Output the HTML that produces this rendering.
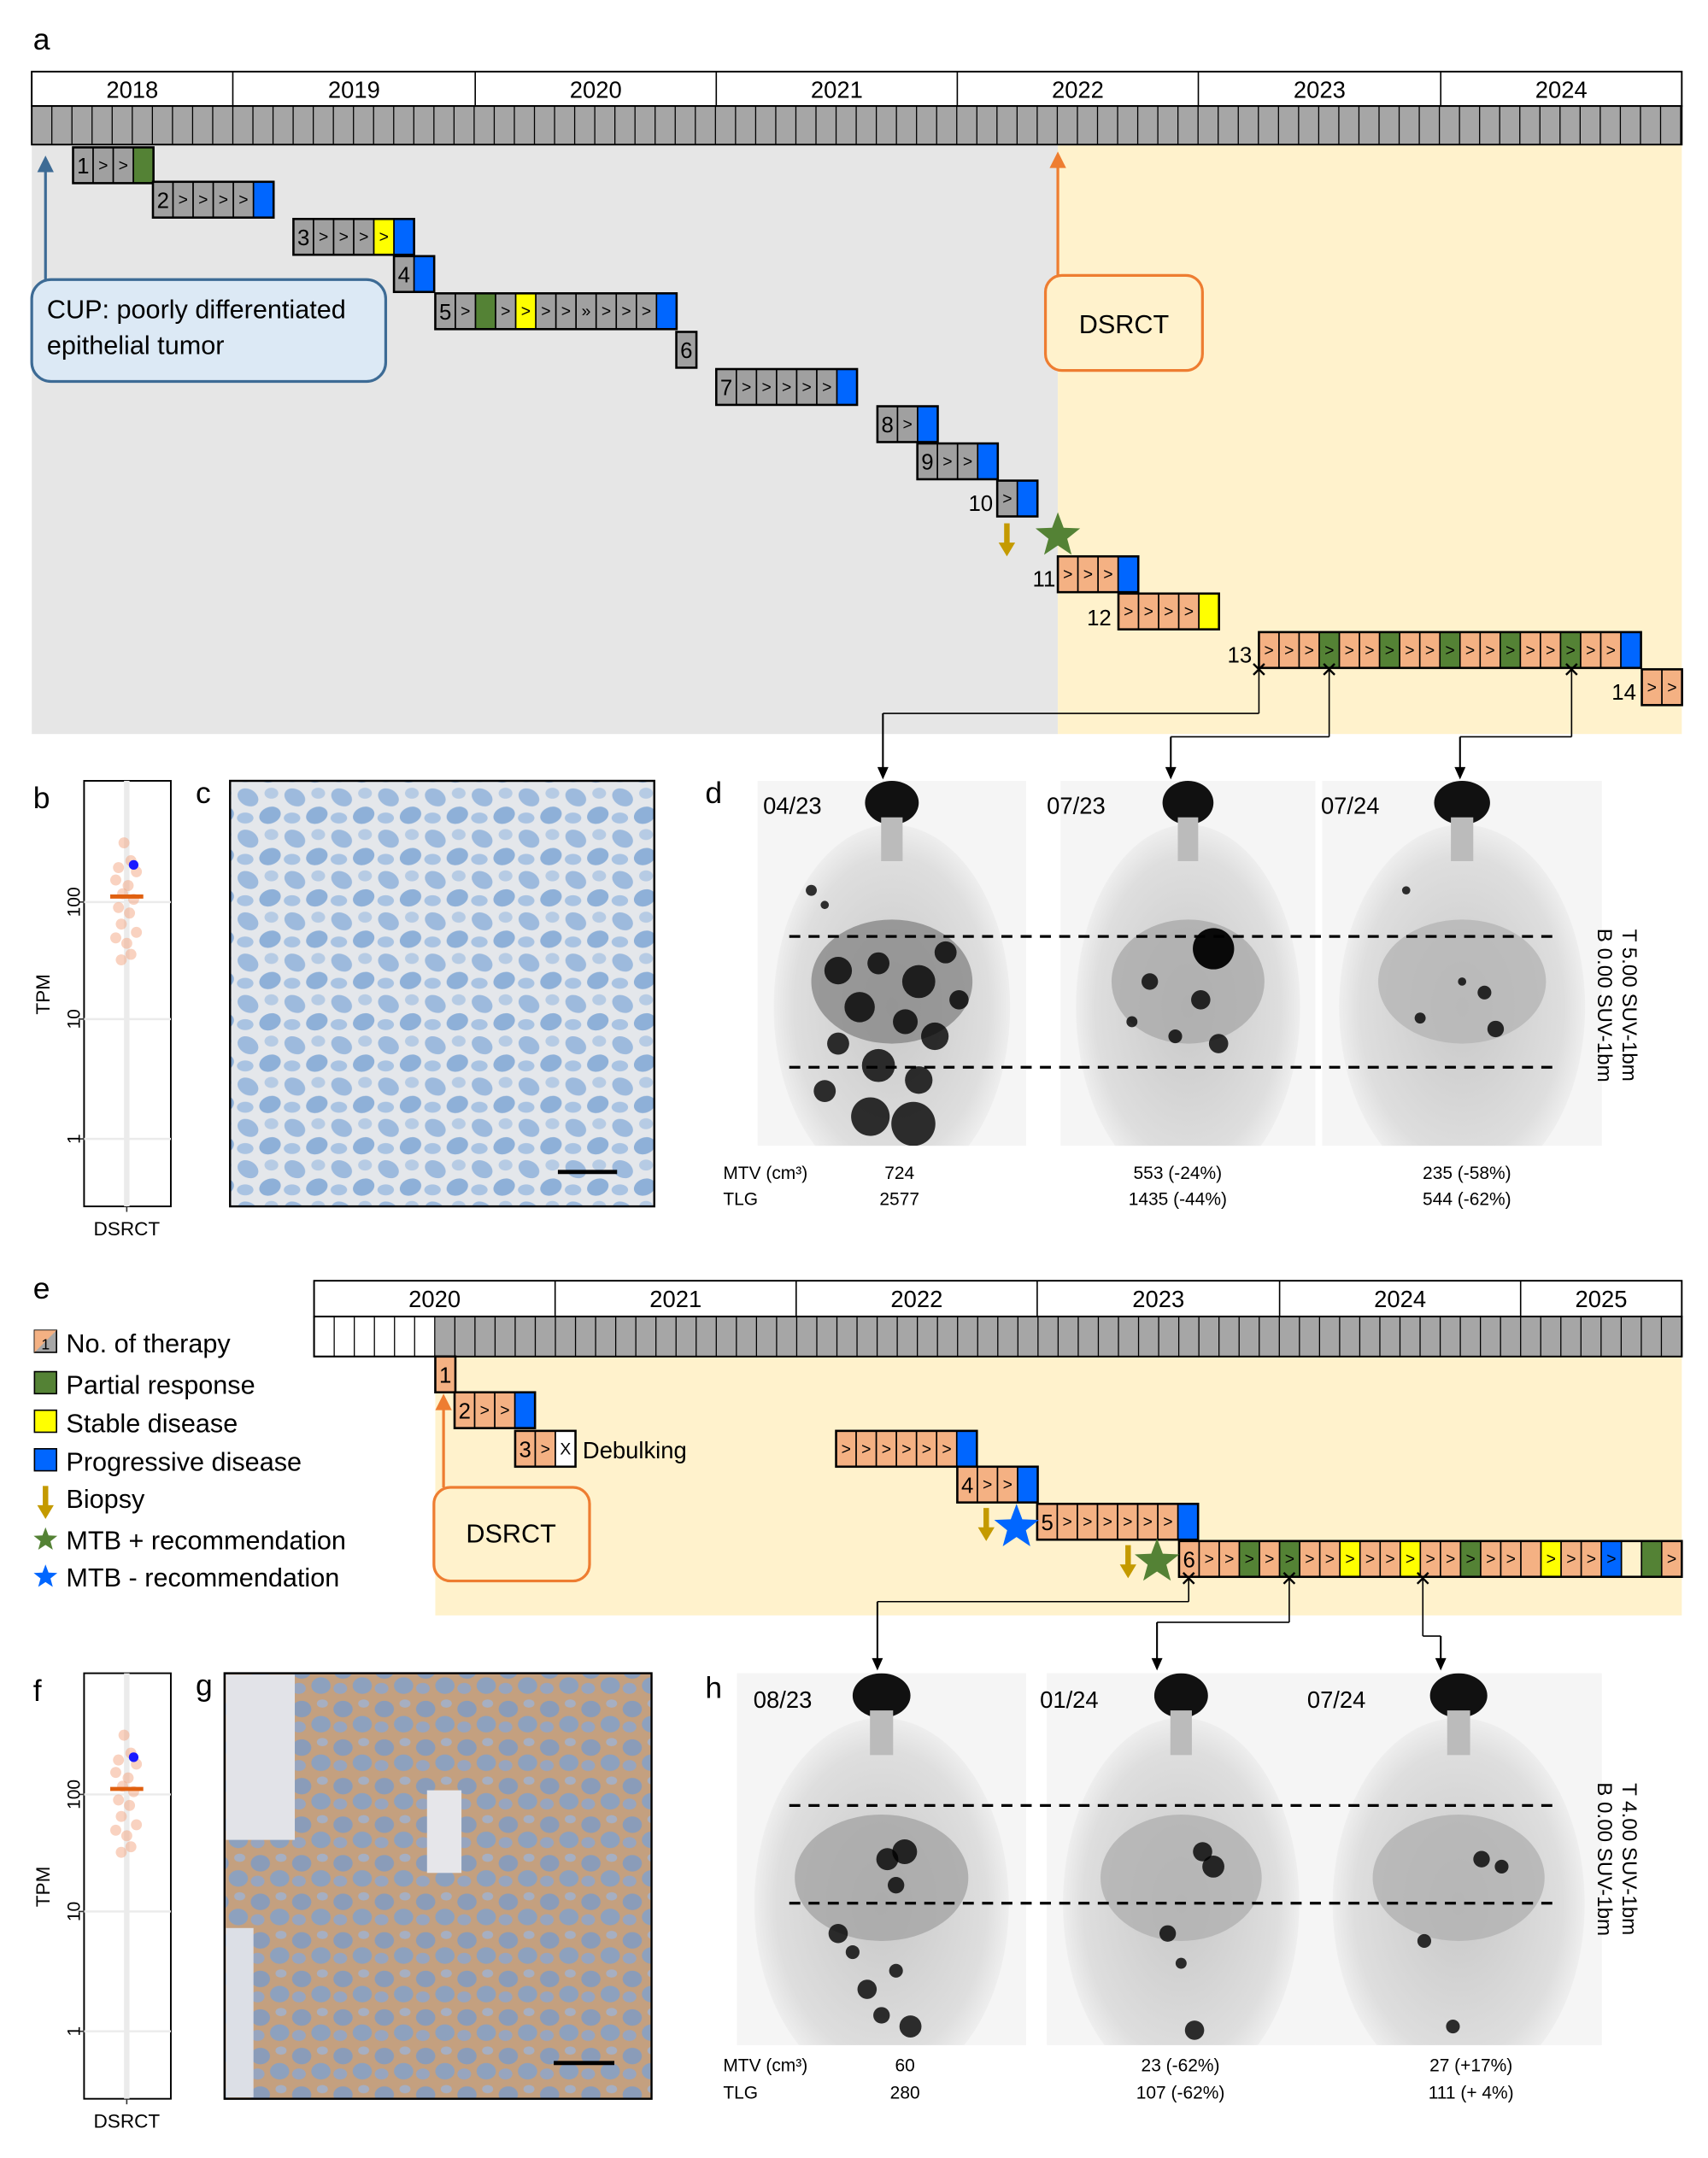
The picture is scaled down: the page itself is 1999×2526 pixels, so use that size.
<!DOCTYPE html><html><head><meta charset="utf-8"><style>html,body{margin:0;padding:0;background:#fff}svg{display:block}text{font-family:"Liberation Sans",sans-serif}</style></head><body>
<svg id="s" xmlns="http://www.w3.org/2000/svg" width="1999" height="2526" viewBox="0 0 1240 1567">
<defs>
<radialGradient id="body" cx="50%" cy="50%" r="55%"><stop offset="0" stop-color="#c8c8c8"/><stop offset="0.75" stop-color="#dedede"/><stop offset="1" stop-color="#f7f7f7"/></radialGradient>
<pattern id="bluecells" width="34" height="30" patternUnits="userSpaceOnUse"><rect width="34" height="30" fill="#e4e7eb"/><ellipse cx="10" cy="9" rx="8" ry="6" fill="#9dbadd" transform="rotate(30 10 9)"/><ellipse cx="26" cy="22" rx="8" ry="6" fill="#8eb0d8" transform="rotate(-20 26 22)"/><ellipse cx="27" cy="6" rx="5" ry="4" fill="#b6cbe4"/><ellipse cx="8" cy="24" rx="6" ry="4" fill="#a9c3e2"/></pattern>
<pattern id="browncells" width="30" height="28" patternUnits="userSpaceOnUse"><rect width="30" height="28" fill="#c4a07f"/><ellipse cx="9" cy="9" rx="7" ry="6" fill="#8a9cb9"/><ellipse cx="23" cy="20" rx="7" ry="6" fill="#8da1be"/><ellipse cx="24" cy="5" rx="4" ry="3" fill="#a6afc2"/><ellipse cx="7" cy="22" rx="5" ry="4" fill="#97a5bf"/></pattern>
</defs>
<g id="g"></g>
</svg>
<script>
const g=document.getElementById('g');let h='';let cid=0;
const S='#f4b183',G='#548235',B='#0066ff',Y='#ffff00',GR='#a0a0a0';
function R(x,y,w,hh,f,st,sw,extra){h+=`<rect x="${x}" y="${y}" width="${w}" height="${hh}" fill="${f}" stroke="${st||'none'}" stroke-width="${sw||1}" ${extra||''}/>`}
function T(x,y,t,fs,anchor,extra){h+=`<text x="${x}" y="${y}" font-size="${fs}" text-anchor="${anchor||'start'}" ${extra||''}>${t}</text>`}
function L(x1,y1,x2,y2,st,sw,extra){h+=`<line x1="${x1}" y1="${y1}" x2="${x2}" y2="${y2}" stroke="${st||'#000'}" stroke-width="${sw||1}" ${extra||''}/>`}
const W=14.6;
function row(x,y,cells,hh){hh=hh||26;cells.forEach((c,i)=>{let cx=x+i*W;R(cx,y,W,hh,c[0],'#000',1);if(c[1]){let num=c[1].match(/\d/);T(cx+W/2,y+hh/2+(num?6:4),c[1],num?16:12,'middle')}});R(x,y,W*cells.length,hh,'none','#000',1.6);}
function arrowDown(x,y1,y2,col){L(x,y1,x,y2-8,col,1.3);h+=`<polygon points="${x-4},${y2-9} ${x+4},${y2-9} ${x},${y2}" fill="${col}"/>`}
function arrowUp(x,y1,y2,col,w){L(x,y1,x,y2+10,col,w||2);h+=`<polygon points="${x-6},${y2+12} ${x+6},${y2+12} ${x},${y2}" fill="${col}"/>`}
function star(cx,cy,r,col){let p=[];for(let i=0;i<10;i++){let a=-Math.PI/2+i*Math.PI/5,rr=i%2?r*0.42:r;p.push((cx+rr*Math.cos(a)).toFixed(1)+','+(cy+rr*Math.sin(a)).toFixed(1))}h+=`<polygon points="${p.join(' ')}" fill="${col}"/>`}
function biopsy(x,y){R(x-2,y,4,16,'#c49a00');h+=`<polygon points="${x-6},${y+14} ${x+6},${y+14} ${x},${y+24}" fill="#c49a00"/>`}
function cross(x,y){L(x-4,y-4,x+4,y+4,'#000',1.5);L(x-4,y+4,x+4,y-4,'#000',1.5)}

// ===== Panel a =====
T(24,36,'a',22);
R(23,105,745,428,'#e6e6e6');R(768,105,453,428,'#fff2cc');
R(23,52,1198,25,'#fff','#000',1.2);
[[23,169,'2018'],[169,345,'2019'],[345,520,'2020'],[520,695,'2021'],[695,870,'2022'],[870,1046,'2023'],[1046,1221,'2024']].forEach(y=>{L(y[0],52,y[0],77,'#000',1);T((y[0]+y[1])/2,71,y[2],17,'middle')});
R(23,77,1198,28,'#a6a6a6','#000',1.2);
for(let x=23;x<1221;x+=W)L(x,77,x,105,'#000',0.8);
const P=[GR,'>'];
row(53,107,[[GR,'1'],P,P,[G]]);
row(111,132,[[GR,'2'],P,P,P,P,[B]]);
row(213,159,[[GR,'3'],P,P,P,[Y,'>'],[B]]);
row(286,186,[[GR,'4'],[B]]);
row(316,213,[[GR,'5'],P,[G],P,[Y,'>'],P,P,[GR,'»'],P,P,P,[B]]);
row(491,241,[[GR,'6']]);
row(520,268,[[GR,'7'],P,P,P,P,P,[B]]);
row(637,295,[[GR,'8'],P,[B]]);
row(666,322,[[GR,'9'],P,P,[B]]);
T(712,371,'10',16,'middle');row(724,349,[P,[B]]);
biopsy(731,380);star(768,389,17,'#548235');
const Q=[S,'>'];
T(758,426,'11',16,'middle');row(768,404,[Q,Q,Q,[B]]);
T(798,454,'12',16,'middle');row(812,431,[Q,Q,Q,Q,[Y]]);
T(900,481,'13',16,'middle');row(914,459,[Q,Q,Q,[G,'>'],Q,Q,[G,'>'],Q,Q,[G,'>'],Q,Q,[G,'>'],Q,Q,[G,'>'],Q,Q,[B]]);
T(1179,508,'14',16,'middle');row(1192,486,[Q,Q]);
cross(914,486);cross(965,486);cross(1141,486);
L(914,486,914,518);L(914,518,641,518);arrowDown(641,518,566,'#000');
L(965,486,965,535);L(965,535,850,535);arrowDown(850,535,566,'#000');
L(1141,486,1141,535);L(1141,535,1060,535);arrowDown(1060,535,566,'#000');
arrowUp(33,205,113,'#3d6b95');
R(23,203,257,74,'#dce9f5','#3d6b95',2,'rx="14"');T(34,231,'CUP: poorly differentiated',19);T(34,257,'epithelial tumor',19);
arrowUp(768,200,110,'#ee7d31');
R(759,200,114,69,'#fff2cc','#ee7d31',2,'rx="12"');T(816,242,'DSRCT',19,'middle');

// TPM panels
function tpm(y0){T(24,y0+20,y0<1000?'b':'f',22);R(61,y0,63,309,'#fff','#000',1.2);
L(92,y0,92,y0+309,'#ebebeb',4);
[[88,'100'],[173,'10'],[260,'1']].forEach(t=>{L(61,y0+t[0],124,y0+t[0],'#ebebeb',1.5);L(57,y0+t[0],61,y0+t[0],'#333',1);T(53,y0+t[0],t[1],13,'middle',`transform="rotate(-90 53 ${y0+t[0]})" dy="5"`)});
T(36,y0+155,'TPM',14,'middle',`transform="rotate(-90 36 ${y0+155})"`);
L(92,y0+309,92,y0+313,'#333');T(92,y0+330,'DSRCT',14,'middle');
const pts=[[90,45],[95,58],[86,63],[99,66],[84,72],[93,76],[89,82],[97,86],[86,92],[94,96],[88,104],[99,110],[84,114],[92,118],[95,126],[88,130]];
pts.forEach(p=>h+=`<circle cx="${p[0]}" cy="${y0+p[1]}" r="4" fill="#f4a582" opacity="0.5"/>`);
h+=`<circle cx="97" cy="${y0+61}" r="3.5" fill="#1a1aff"/>`;L(80,y0+84,104,y0+84,'#e06010',3);}
tpm(567);tpm(1215);

// IHC
T(142,583,'c',22);R(167,567,308,309,'url(#bluecells)','#000',1.5);L(405,851,448,851,'#000',3);
T(142,1231,'g',22);R(163,1215,310,309,'url(#browncells)','#000',1.5);
R(164,1216,50,120,'#e2e3e8');R(164,1400,20,123,'#dcdfe6');R(310,1300,25,60,'#e6e6ea');L(402,1498,446,1498,'#000',3);

// PET
function pet(x,w,y0,hh,blobs,dark,organ){cid++;
h+=`<clipPath id="c${cid}"><rect x="${x}" y="${y0}" width="${w}" height="${hh}"/></clipPath>`;
R(x,y0,w,hh,'#f5f5f5');h+=`<g clip-path="url(#c${cid})">`;
let cx=x+w/2;
h+=`<ellipse cx="${cx}" cy="${y0+hh*0.62}" rx="${w*0.44}" ry="${hh*0.5}" fill="url(#body)"/>`;
h+=`<ellipse cx="${cx}" cy="${y0+hh*0.06}" rx="${w*0.1}" ry="${hh*0.06}" fill="#111"/>`;
h+=`<rect x="${cx-w*0.04}" y="${y0+hh*0.1}" width="${w*0.08}" height="${hh*0.12}" fill="#bbb"/>`;
h+=`<ellipse cx="${cx}" cy="${y0+hh*0.55}" rx="${w*0.3}" ry="${hh*0.17}" fill="${dark}" opacity="0.8"/>`;
blobs.forEach(b=>h+=`<circle cx="${x+b[0]*w}" cy="${y0+b[1]*hh}" r="${b[2]}" fill="#000" opacity="${b[3]||0.8}"/>`);
h+='</g>';}
T(512,583,'d',22);
const bl1=[[.3,.52,10],[.45,.5,8],[.6,.55,12],[.7,.47,8],[.38,.62,11],[.55,.66,9],[.66,.7,10],[.3,.72,8],[.45,.78,12],[.6,.82,10],[.42,.92,14],[.58,.94,16],[.25,.85,8],[.75,.6,7],[.2,.3,4],[.25,.34,3]];
pet(550,195,567,265,bl1,'#888');
pet(770,185,567,265,[[.6,.46,15,.95],[.35,.55,6],[.55,.6,7],[.45,.7,5],[.62,.72,7],[.28,.66,4]],'#aaa');
pet(960,203,567,265,[[.3,.3,3],[.58,.58,5],[.62,.68,6],[.35,.65,4],[.5,.55,3]],'#b5b5b5');
T(554,591,'04/23',17);T(760,591,'07/23',17);T(959,591,'07/24',17);
L(573,680,1130,680,'#000',2,'stroke-dasharray="8,6"');L(573,775,1130,775,'#000',2,'stroke-dasharray="8,6"');
T(1178,730,'T 5.00 SUV-1bm',15,'middle','transform="rotate(90 1178 730)"');T(1160,730,'B 0.00 SUV-1bm',15,'middle','transform="rotate(90 1160 730)"');
T(525,856,'MTV (cm³)',13);T(525,875,'TLG',13);T(653,856,'724',13,'middle');T(653,875,'2577',13,'middle');
T(855,856,'553 (-24%)',13,'middle');T(855,875,'1435 (-44%)',13,'middle');T(1065,856,'235 (-58%)',13,'middle');T(1065,875,'544 (-62%)',13,'middle');

// ===== Panel e =====
T(24,943,'e',22);
R(316,985,905,188,'#fff2cc');
R(228,930,993,26,'#fff','#000',1.2);
[[228,403,'2020'],[403,578,'2021'],[578,753,'2022'],[753,929,'2023'],[929,1104,'2024'],[1104,1221,'2025']].forEach(y=>{L(y[0],930,y[0],956,'#000',1);T((y[0]+y[1])/2,949,y[2],17,'middle')});
R(228,956,993,29,'#fff','#000',1.2);R(316,956,905,29,'#a6a6a6');
for(let x=228;x<1221;x+=W)L(x,956,x,985,'#000',0.8);R(228,956,993,29,'none','#000',1.2);
R(25,966,16,16,'#a6a6a6','#000');h+=`<polygon points="25,966 41,966 25,982" fill="#f4b183"/>`;T(30,980,'1',11);
T(48,982,'No. of therapy',19);
R(25,996,16,16,G,'#000');T(48,1012,'Partial response',19);
R(25,1024,16,16,Y,'#000');T(48,1040,'Stable disease',19);
R(25,1052,16,16,B,'#000');T(48,1068,'Progressive disease',19);
biopsy(33,1079);T(48,1095,'Biopsy',19);
star(33,1118,9,'#548235');T(48,1125,'MTB + recommendation',19);
star(33,1145,9,'#0066ff');T(48,1152,'MTB - recommendation',19);
row(316,985,[[S,'1']]);
row(330,1011,[[S,'2'],Q,Q,[B]]);
row(374,1039,[[S,'3'],Q,['#fff','X']]);T(423,1059,'Debulking',17);
row(607,1039,[Q,Q,Q,Q,Q,Q,[B]]);
row(695,1065,[[S,'4'],Q,Q,[B]]);
row(753,1092,[[S,'5'],Q,Q,Q,Q,Q,Q,[B]]);
row(856,1119,[[S,'6'],Q,Q,[G,'>'],Q,[G,'>'],Q,Q,[Y,'>'],Q,Q,[Y,'>'],Q,Q,[G,'>'],Q,Q,[S],[Y,'>'],Q,Q,[B,'>'],['#fff2cc'],[G],Q]);
biopsy(716,1095);star(738,1109,17,'#0066ff');biopsy(819,1122);star(840,1134,17,'#548235');
arrowUp(322,1080,1012,'#ee7d31');
R(315,1080,113,68,'#fff2cc','#ee7d31',2,'rx="12"');T(371,1120,'DSRCT',19,'middle');
cross(863,1146);cross(936,1146);cross(1033,1146);
L(863,1146,863,1163);L(863,1163,637,1163);arrowDown(637,1163,1213,'#000');
L(936,1146,936,1178);L(936,1178,840,1178);arrowDown(840,1178,1213,'#000');
L(1033,1146,1033,1188);L(1033,1188,1046,1188);arrowDown(1046,1188,1213,'#000');

// ===== Panel h =====
T(512,1233,'h',22);
pet(535,210,1215,270,[[.52,.5,8],[.58,.48,9],[.55,.57,6],[.35,.7,7],[.4,.75,5],[.45,.85,7],[.5,.92,6],[.6,.95,8],[.55,.8,5]],'#a5a5a5');
pet(760,195,1215,270,[[.58,.48,7],[.62,.52,8],[.45,.7,6],[.5,.78,4],[.55,.96,7]],'#b0b0b0');
pet(955,208,1215,270,[[.58,.5,6],[.65,.52,5],[.38,.72,5],[.48,.95,5]],'#b2b2b2');
T(547,1240,'08/23',17);T(755,1240,'01/24',17);T(949,1240,'07/24',17);
L(573,1311,1130,1311,'#000',2,'stroke-dasharray="8,6"');L(573,1382,1130,1382,'#000',2,'stroke-dasharray="8,6"');
T(1178,1350,'T 4.00 SUV-1bm',15,'middle','transform="rotate(90 1178 1350)"');T(1160,1350,'B 0.00 SUV-1bm',15,'middle','transform="rotate(90 1160 1350)"');
T(525,1504,'MTV (cm³)',13);T(525,1524,'TLG',13);T(657,1504,'60',13,'middle');T(657,1524,'280',13,'middle');
T(857,1504,'23 (-62%)',13,'middle');T(857,1524,'107 (-62%)',13,'middle');T(1068,1504,'27 (+17%)',13,'middle');T(1068,1524,'111 (+  4%)',13,'middle');
g.innerHTML=h;
</script>
</body></html>
